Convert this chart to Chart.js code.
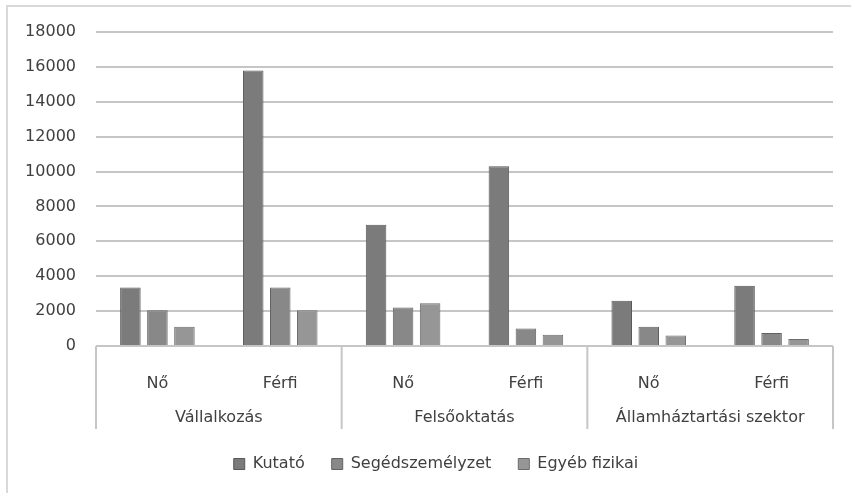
<!DOCTYPE html>
<html>
<head>
<meta charset="utf-8">
<script src="https://cdn.jsdelivr.net/npm/chart.js@4"></script>
<style>
  body { margin: 0; background: #fff; }
  #frame { position: absolute; left: 6px; top: 5px; width: 900px; height: 600px; border: 2px solid #d9d9d9; }
  #wrap { position: absolute; left: 0; top: 0; width: 851px; height: 493px; }
</style>
</head>
<body>
<div id="frame"></div>
<div id="wrap"><canvas id="chart"></canvas></div>
<script>
const categories = ["Nő", "Férfi", "Nő", "Férfi", "Nő", "Férfi"];
const groups = ["Vállalkozás", "Felsőoktatás", "Államháztartási szektor"];
const kutato = [3350, 15800, 6950, 10300, 2600, 3450];
const segedszemelyzet = [2050, 3350, 2200, 1000, 1100, 750];
const egyebFizikai = [1100, 2050, 2450, 650, 600, 400];
const yTicks = [0, 2000, 4000, 6000, 8000, 10000, 12000, 14000, 16000, 18000];

const FONT = "'DejaVu Sans', sans-serif";
const GRID = "#c6c6c6";

// draws the group row and the separators below the category axis
const groupAxis = {
  id: "groupAxis",
  afterLayout(chart) {
    // legend sits a little right of centre in the original
    chart.legend.left += 11;
    chart.legend.right += 11;
  },
  afterDraw(chart) {
    const ctx = chart.ctx;
    const x = chart.scales.x;
    const area = chart.chartArea;
    const per = categories.length / groups.length;
    const half = (x.getPixelForValue(1) - x.getPixelForValue(0)) / 2;
    ctx.save();
    ctx.strokeStyle = GRID;
    ctx.lineWidth = 2;
    for (let g = 0; g <= groups.length; g++) {
      const px = g === groups.length
        ? x.getPixelForValue(categories.length - 1) + half
        : x.getPixelForValue(g * per) - half;
      ctx.beginPath();
      ctx.moveTo(px, area.bottom);
      ctx.lineTo(px, area.bottom + 83);
      ctx.stroke();
    }
    ctx.fillStyle = "#404040";
    ctx.font = "16px " + FONT;
    ctx.textAlign = "center";
    ctx.textBaseline = "middle";
    groups.forEach((name, g) => {
      const c = (x.getPixelForValue(g * per) + x.getPixelForValue(g * per + per - 1)) / 2;
      ctx.fillText(name, c, area.bottom + 72);
    });
    ctx.restore();
  }
};

new Chart(document.getElementById("chart"), {
  type: "bar",
  data: {
    labels: categories,
    datasets: [
      { label: "Kutató", data: kutato, backgroundColor: "#7b7b7b", borderColor: "#585858" },
      { label: "Segédszemélyzet", data: segedszemelyzet, backgroundColor: "#888888", borderColor: "#616161" },
      { label: "Egyéb fizikai", data: egyebFizikai, backgroundColor: "#969696", borderColor: "#6c6c6c" }
    ]
  },
  options: {
    responsive: true,
    maintainAspectRatio: false,
    animation: false,
    datasets: { bar: { borderWidth: 1, categoryPercentage: 0.66, barPercentage: 0.76 } },
    layout: { padding: { left: 17, right: 18, top: 32, bottom: 11 } },
    plugins: {
      legend: {
        position: "bottom",
        maxHeight: 64,
        labels: { font: { family: FONT, size: 16 }, color: "#404040", boxWidth: 11, boxHeight: 11, padding: 27 }
      },
      tooltip: { enabled: false }
    },
    scales: {
      x: {
        grid: { display: false, drawTicks: false },
        border: { display: false },
        ticks: { font: { family: FONT, size: 16 }, color: "#404040", padding: 28, maxRotation: 0 },
        afterFit: s => { s.height = 83; }
      },
      y: {
        min: 0,
        max: 18000,
        afterBuildTicks: s => { s.ticks = yTicks.map(v => ({ value: v })); },
        grid: { color: GRID, lineWidth: 2, drawTicks: false },
        border: { display: false },
        ticks: { font: { family: FONT, size: 16 }, color: "#404040", padding: 20, callback: v => String(v) },
        afterFit: s => { s.width = 79; }
      }
    }
  },
  plugins: [groupAxis]
});
</script>
</body>
</html>
